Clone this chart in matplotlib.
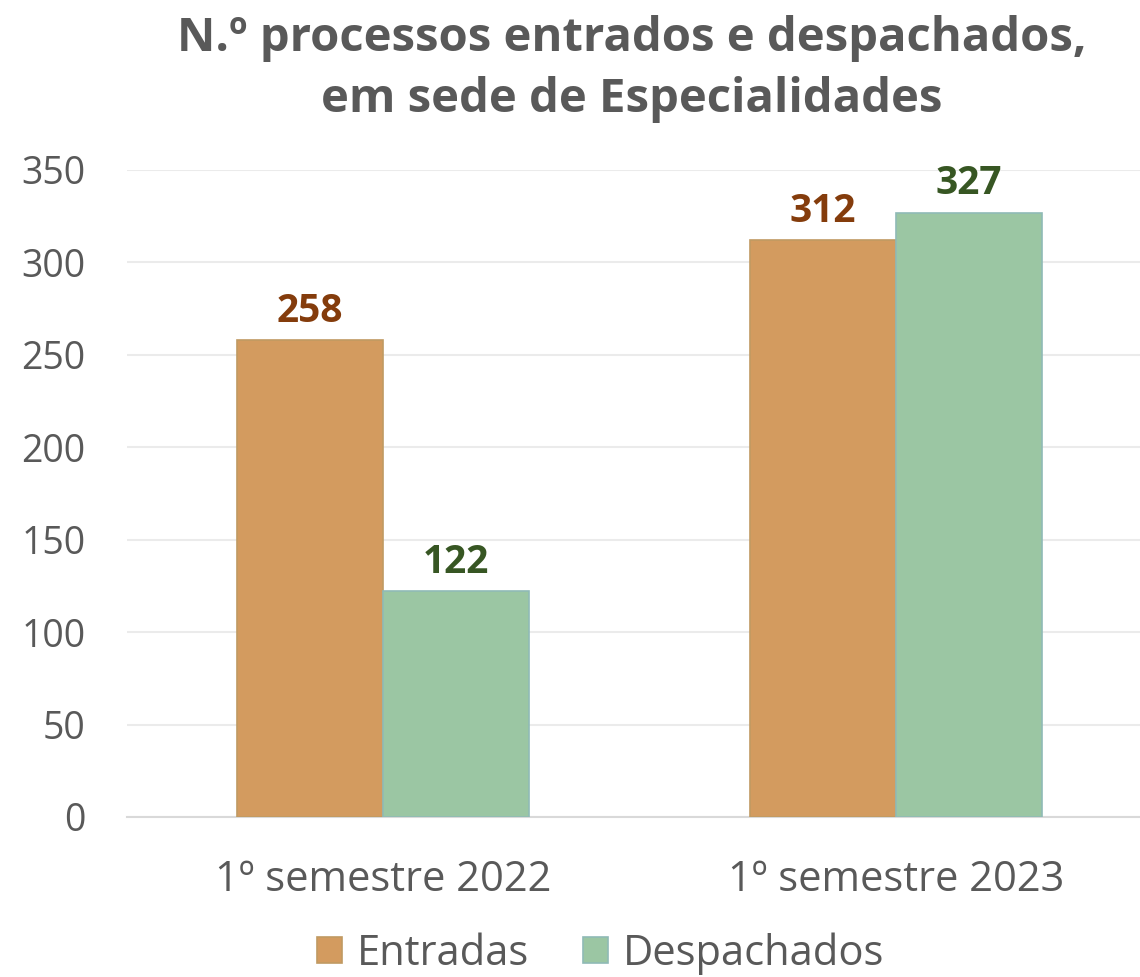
import matplotlib
matplotlib.use("Agg")
import matplotlib.pyplot as plt
import numpy as np

categories = ["1º semestre 2022", "1º semestre 2023"]
entradas = [258, 312]
despachados = [122, 327]
series_names = ["Entradas", "Despachados"]
yticks = [0, 50, 100, 150, 200, 250, 300, 350]
title = "N.º processos entrados e despachados,\nem sede de Especialidades"

c_ent = "#D39B5F"
c_des = "#9BC6A3"
lab_ent = "#843C0C"
lab_des = "#375623"
txt = "#595959"

fig = plt.figure(figsize=(11.4, 9.77), dpi=100)
ax = fig.add_axes([0.1114, 0.1638, 0.8886, 0.6622])

x = np.arange(len(categories))
w = 0.285
b1 = ax.bar(x - w/2, entradas, w, color=c_ent, edgecolor="#C09A62", linewidth=1.2, label=series_names[0], zorder=3)
b2 = ax.bar(x + w/2, despachados, w, color=c_des, edgecolor="#8FBAB6", linewidth=1.2, label=series_names[1], zorder=3)

for rect, v in zip(b1, entradas):
    ax.text(rect.get_x() + rect.get_width()/2, v + 5, str(v), ha="center", va="bottom",
            fontsize=28, fontweight="bold", color=lab_ent, family="Open Sans")
for rect, v in zip(b2, despachados):
    ax.text(rect.get_x() + rect.get_width()/2, v + 5, str(v), ha="center", va="bottom",
            fontsize=28, fontweight="bold", color=lab_des, family="Open Sans")

ax.set_xlim(-0.499, 1.476)
ax.set_ylim(0, 350)
ax.set_yticks(yticks)
ax.set_yticklabels([str(t) for t in yticks], fontsize=27, color=txt, family="Open Sans")
ax.set_xticks(x)
ax.set_xticklabels(categories, fontsize=30, color=txt, family="Open Sans")
ax.tick_params(axis="both", length=0)
ax.tick_params(axis="x", pad=30)
ax.tick_params(axis="y", pad=30)
ax.grid(axis="y", color="#EBEBEB", linewidth=1.5, zorder=0)
for s in ["top", "right", "left"]:
    ax.spines[s].set_visible(False)
ax.spines["bottom"].set_color("#D9D9D9")
ax.spines["bottom"].set_linewidth(1.5)

fig.text(0.554, 0.985, title, ha="center", va="top", fontsize=34, fontweight="bold",
         color=txt, family="Open Sans", linespacing=1.4)

leg = fig.legend(handles=[b1, b2], labels=series_names, loc="center", bbox_to_anchor=(0.527, 0.024),
                 ncol=2, frameon=False, prop={"family": "Open Sans", "size": 30},
                 handlelength=0.6, handleheight=0.6, handletextpad=0.35, columnspacing=1.3,
                 borderpad=0.1)
for t in leg.get_texts():
    t.set_color(txt)

fig.savefig("out.png", dpi=100)
